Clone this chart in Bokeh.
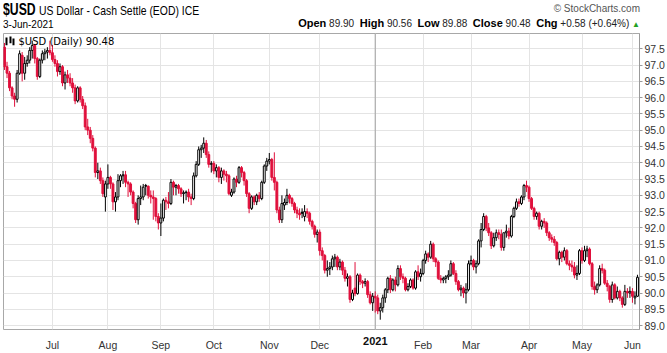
import pandas as pd
from bokeh.plotting import figure
from bokeh.layouts import column
from bokeh.models import (Range1d, FixedTicker, Label, BoxAnnotation, Span, ColumnDataSource,
                          NumeralTickFormatter, Div)
from bokeh.embed import file_html
from bokeh.resources import INLINE

HOLIDAYS = ["2020-07-03", "2020-09-07", "2020-11-26", "2020-12-25", "2021-01-01",
            "2021-01-18", "2021-02-15", "2021-04-02", "2021-05-31"]
dates = [d for d in pd.bdate_range("2020-06-04", "2021-06-03")
         if d.strftime("%Y-%m-%d") not in HOLIDAYS]

opens = [97.55, 96.95, 96.75, 96.30, 96.05, 95.95, 96.75, 97.30, 96.75, 97.05,
         97.15, 97.45, 97.60, 97.20, 96.65, 97.15, 97.35, 97.40, 97.45, 97.38,
         97.17, 97.05, 96.80, 96.95, 96.45, 96.70, 96.60, 96.45, 96.30, 95.90,
         96.30, 95.95, 95.75, 95.10, 95.00, 94.75, 94.45, 93.70, 93.75, 93.45,
         92.95, 93.35, 93.55, 93.35, 92.80, 92.95, 93.45, 93.60, 93.63, 93.40,
         93.35, 93.10, 92.75, 92.25, 92.90, 92.95, 93.30, 93.28, 93.00, 92.95,
         92.90, 92.35, 92.15, 92.30, 92.85, 92.80, 92.75, 93.40, 93.25, 93.30,
         93.20, 93.05, 93.08, 93.10, 92.95, 92.90, 93.60, 93.95, 94.40, 94.45,
         94.60, 94.25, 93.95, 93.98, 93.75, 93.85, 93.55, 93.75, 93.65, 93.60,
         93.00, 93.10, 93.50, 93.40, 93.85, 93.70, 93.45, 93.05, 92.60, 92.95,
         92.80, 93.00, 92.90, 93.40, 93.90, 94.05, 94.10, 93.55, 93.40, 92.55,
         92.25, 92.70, 92.78, 93.00, 92.90, 92.75, 92.55, 92.45, 92.48, 92.35,
         92.50, 92.45, 92.20, 92.05, 91.80, 91.87, 91.30, 91.15, 90.70, 90.75,
         90.80, 91.05, 91.10, 90.80, 90.95, 90.70, 90.45, 90.50, 89.80, 90.15,
         89.98, 90.55, 90.35, 90.30, 90.35, 89.95, 89.70, 89.90, 89.85, 89.45,
         89.55, 89.85, 90.10, 90.45, 90.10, 90.40, 90.25, 90.75, 90.50, 90.45,
         90.10, 90.20, 90.40, 90.15, 90.65, 90.50, 90.60, 91.00, 91.20, 91.10,
         91.50, 91.05, 90.95, 90.45, 90.40, 90.45, 90.50, 90.55, 90.90, 90.60,
         90.35, 90.10, 90.15, 90.00, 90.10, 90.90, 91.00, 90.80, 90.90, 91.60,
         91.95, 92.35, 92.00, 91.85, 91.45, 91.70, 91.85, 91.80, 91.40, 91.85,
         91.90, 91.75, 92.35, 92.60, 92.80, 92.75, 92.95, 93.30, 93.25, 92.90,
         92.60, 92.35, 92.45, 92.05, 92.20, 92.15, 91.85, 91.70, 91.65, 91.55,
         91.05, 91.25, 91.10, 91.30, 90.90, 90.85, 90.80, 90.55, 90.60, 91.30,
         91.00, 91.30, 91.35, 90.90, 90.20, 90.10, 90.25, 90.75, 90.70, 90.30,
         90.20, 89.80, 90.25, 89.85, 90.05, 89.85, 89.65, 90.05, 90.00, 90.05,
         89.85, 89.90]
highs = [97.68, 97.10, 96.82, 96.35, 96.15, 96.85, 97.45, 97.40, 97.25, 97.30,
         97.55, 97.75, 97.65, 97.25, 97.20, 97.45, 97.50, 97.55, 97.75, 97.62,
         97.30, 97.15, 97.05, 97.00, 96.80, 96.85, 96.75, 96.60, 96.40, 96.35,
         96.35, 96.05, 95.85, 95.35, 95.10, 94.85, 94.50, 94.00, 93.85, 93.55,
         93.45, 93.95, 93.60, 93.40, 93.10, 93.65, 93.65, 93.75, 93.75, 93.45,
         93.40, 93.15, 92.80, 93.00, 93.30, 93.35, 93.35, 93.30, 93.15, 93.15,
         92.95, 92.45, 92.75, 92.90, 92.95, 93.10, 93.50, 93.45, 93.35, 93.35,
         93.25, 93.15, 93.15, 93.20, 93.05, 93.70, 94.05, 94.50, 94.55, 94.78,
         94.70, 94.35, 94.05, 94.05, 93.95, 93.90, 93.85, 93.80, 93.75, 93.65,
         93.20, 93.55, 93.60, 93.90, 93.90, 93.75, 93.50, 93.10, 93.00, 93.00,
         93.05, 93.10, 93.45, 93.95, 94.15, 94.30, 94.15, 94.32, 93.45, 92.65,
         93.00, 92.90, 93.20, 93.05, 92.95, 92.80, 92.65, 92.60, 92.60, 92.70,
         92.60, 92.50, 92.25, 92.10, 91.95, 91.95, 91.40, 91.20, 91.00, 90.95,
         91.15, 91.20, 91.15, 91.05, 91.00, 90.80, 90.60, 90.55, 90.10, 90.95,
         90.60, 90.60, 90.40, 90.45, 90.40, 90.05, 90.00, 90.05, 89.95, 89.70,
         89.95, 90.15, 90.50, 90.55, 90.45, 90.50, 90.85, 90.85, 90.60, 90.50,
         90.30, 90.45, 90.45, 90.70, 90.85, 90.75, 91.05, 91.30, 91.25, 91.60,
         91.55, 91.10, 91.00, 90.55, 90.50, 90.55, 90.70, 91.00, 90.95, 90.70,
         90.40, 90.25, 90.20, 90.30, 91.00, 91.15, 91.05, 91.00, 91.65, 92.15,
         92.45, 92.40, 92.15, 91.90, 91.85, 91.95, 91.95, 91.95, 91.85, 92.10,
         92.00, 92.40, 92.65, 92.90, 92.90, 93.00, 93.35, 93.45, 93.30, 92.95,
         92.65, 92.50, 92.50, 92.25, 92.30, 92.20, 91.90, 91.80, 91.75, 91.60,
         91.30, 91.30, 91.40, 91.35, 91.00, 91.00, 90.95, 90.85, 91.35, 91.40,
         91.45, 91.45, 91.40, 90.95, 90.35, 90.30, 90.85, 90.90, 90.75, 90.40,
         90.25, 90.35, 90.30, 90.20, 90.10, 89.90, 90.25, 90.15, 90.20, 90.15,
         90.05, 90.56]
lows = [96.85, 96.60, 96.20, 95.95, 95.72, 95.85, 96.70, 96.50, 96.55, 96.95,
        97.05, 97.20, 97.05, 96.55, 96.60, 97.05, 97.15, 97.20, 97.30, 97.10,
        96.95, 96.65, 96.70, 96.35, 96.25, 96.45, 96.35, 96.15, 95.80, 95.85,
        95.85, 95.65, 95.00, 94.85, 94.60, 94.35, 93.55, 93.50, 93.35, 92.95,
        92.50, 93.20, 93.20, 92.55, 92.50, 92.85, 93.25, 93.35, 93.25, 92.95,
        93.00, 92.60, 92.15, 92.10, 92.70, 92.85, 93.00, 92.90, 92.75, 92.25,
        92.20, 91.95, 91.75, 92.20, 92.55, 92.60, 92.70, 93.00, 93.00, 93.05,
        92.95, 92.75, 92.85, 92.80, 92.70, 92.85, 93.55, 93.90, 94.15, 94.30,
        94.15, 93.85, 93.70, 93.65, 93.55, 93.40, 93.35, 93.45, 93.40, 93.00,
        92.95, 93.05, 93.25, 93.35, 93.55, 93.30, 92.95, 92.45, 92.55, 92.70,
        92.70, 92.80, 92.85, 93.35, 93.75, 93.95, 93.45, 93.15, 92.45, 92.15,
        92.15, 92.55, 92.70, 92.75, 92.65, 92.45, 92.30, 92.25, 92.30, 92.20,
        92.30, 92.10, 91.95, 91.70, 91.55, 91.15, 91.00, 90.60, 90.50, 90.55,
        90.70, 90.80, 90.70, 90.70, 90.55, 90.35, 90.20, 89.70, 89.75, 89.90,
        89.95, 90.25, 90.15, 90.20, 89.85, 89.65, 89.45, 89.40, 89.35, 89.18,
        89.40, 89.70, 90.00, 90.00, 90.05, 90.05, 90.20, 90.40, 90.30, 90.05,
        90.05, 90.15, 90.10, 90.10, 90.40, 90.35, 90.55, 90.90, 90.95, 91.05,
        90.95, 90.80, 90.40, 90.30, 90.30, 90.30, 90.40, 90.50, 90.55, 90.25,
        90.05, 89.90, 89.85, 89.68, 90.05, 90.85, 90.70, 90.60, 90.85, 91.40,
        91.90, 91.90, 91.75, 91.35, 91.40, 91.60, 91.65, 91.30, 91.30, 91.70,
        91.65, 91.70, 92.30, 92.55, 92.65, 92.70, 92.85, 93.10, 92.80, 92.55,
        92.25, 92.25, 91.95, 91.95, 92.00, 91.75, 91.60, 91.55, 91.45, 91.00,
        90.85, 90.95, 91.00, 90.85, 90.70, 90.65, 90.45, 90.40, 90.55, 90.90,
        90.95, 91.10, 90.85, 90.10, 89.95, 90.00, 90.20, 90.60, 90.25, 90.05,
        89.70, 89.70, 89.80, 89.80, 89.75, 89.55, 89.60, 89.85, 89.85, 89.70,
        89.65, 89.88]
closes = [96.95, 96.75, 96.30, 96.05, 95.95, 96.75, 97.35, 96.75, 97.05, 97.15,
          97.45, 97.60, 97.20, 96.65, 97.15, 97.35, 97.40, 97.45, 97.38, 97.17,
          97.05, 96.80, 96.95, 96.45, 96.70, 96.60, 96.45, 96.30, 95.90, 96.30,
          95.95, 95.75, 95.10, 95.00, 94.75, 94.45, 93.70, 93.75, 93.45, 93.05,
          93.35, 93.55, 93.35, 92.80, 92.95, 93.45, 93.60, 93.63, 93.40, 93.35,
          93.10, 92.75, 92.25, 92.90, 92.95, 93.25, 93.28, 93.00, 92.95, 92.90,
          92.35, 92.15, 92.30, 92.85, 92.80, 92.75, 93.40, 93.25, 93.30, 93.20,
          93.05, 93.08, 93.10, 92.95, 92.90, 93.60, 93.95, 94.40, 94.45, 94.60,
          94.25, 93.95, 93.98, 93.75, 93.85, 93.55, 93.75, 93.65, 93.60, 93.05,
          93.10, 93.50, 93.40, 93.85, 93.70, 93.45, 93.05, 92.60, 92.95, 92.80,
          93.00, 92.90, 93.40, 93.90, 94.05, 94.10, 93.55, 93.40, 92.55, 92.25,
          92.75, 92.78, 93.00, 92.90, 92.75, 92.55, 92.45, 92.40, 92.45, 92.50,
          92.45, 92.20, 92.05, 91.80, 91.87, 91.30, 91.15, 90.70, 90.75, 90.80,
          91.05, 91.10, 90.80, 90.95, 90.70, 90.45, 90.50, 89.80, 90.00, 89.98,
          90.55, 90.35, 90.30, 90.35, 89.95, 89.70, 89.90, 89.85, 89.45, 89.55,
          89.85, 90.10, 90.45, 90.10, 90.40, 90.25, 90.75, 90.50, 90.45, 90.10,
          90.20, 90.40, 90.15, 90.65, 90.50, 90.60, 91.00, 91.20, 91.10, 91.50,
          91.05, 90.95, 90.45, 90.40, 90.45, 90.50, 90.55, 90.90, 90.60, 90.35,
          90.10, 90.15, 90.00, 90.10, 90.90, 91.00, 90.80, 90.90, 91.60, 91.95,
          92.35, 92.00, 91.85, 91.45, 91.70, 91.85, 91.80, 91.40, 91.85, 91.90,
          91.75, 92.35, 92.60, 92.80, 92.75, 92.95, 93.30, 93.25, 92.90, 92.60,
          92.35, 92.45, 92.05, 92.20, 92.15, 91.85, 91.70, 91.65, 91.55, 91.05,
          91.25, 91.10, 91.30, 90.90, 90.85, 90.80, 90.55, 90.60, 91.30, 91.00,
          91.30, 91.35, 90.90, 90.20, 90.10, 90.25, 90.75, 90.70, 90.30, 90.20,
          89.80, 90.25, 89.85, 90.05, 89.85, 89.65, 90.05, 90.00, 90.05, 89.90,
          89.90, 90.48]

Y_TICKS = [89.0, 89.5, 90.0, 90.5, 91.0, 91.5, 92.0, 92.5, 93.0, 93.5,
           94.0, 94.5, 95.0, 95.5, 96.0, 96.5, 97.0, 97.5]

RED = "#e0103c"
BLACK = "#000000"

n = len(closes)
xs = list(range(n))
prev = [opens[0]] + closes[:-1]
cols = [BLACK if c >= pc else RED for c, pc in zip(closes, prev)]
fills = ["#ffffff" if c > o else col for o, c, col in zip(opens, closes, cols)]
tops = [max(o, c) for o, c in zip(opens, closes)]
bots = [min(o, c) for o, c in zip(opens, closes)]
tops = [t if t - b > 0.02 else b + 0.02 for t, b in zip(tops, bots)]

month_ticks, month_names = [], []
for i in range(1, n):
    if dates[i].month != dates[i - 1].month:
        month_ticks.append(i)
        month_names.append("2021" if dates[i].month == 1 else dates[i].strftime("%b"))
jan_tick = month_ticks[month_names.index("2021")]

XMIN, XMAX = -0.4, 251.8
YMIN, YMAX = 88.879, 97.97
HEAD = 33          # header height (page px)
FL, FW, FH = 3, 637, 300

p = figure(width=667, height=320, x_range=Range1d(XMIN, XMAX), y_range=Range1d(YMIN, YMAX),
           output_backend="svg", toolbar_location=None, y_axis_location="right",
           min_border_left=FL, min_border_right=27, min_border_top=0, min_border_bottom=20,
           margin=0)
p.background_fill_color = "#ffffff"
p.border_fill_color = "#ffffff"
p.outline_line_color = "#a8a8a8"

p.xgrid.ticker = FixedTicker(ticks=month_ticks)
p.ygrid.ticker = FixedTicker(ticks=Y_TICKS)
p.xgrid.grid_line_color = "#e4e4e4"
p.ygrid.grid_line_color = "#e4e4e4"

p.yaxis.ticker = FixedTicker(ticks=Y_TICKS)
p.yaxis.formatter = NumeralTickFormatter(format="0.0")
p.yaxis.axis_line_color = "#9a9a9a"
p.yaxis.major_tick_line_color = "#9a9a9a"
p.yaxis.major_tick_out = 3
p.yaxis.major_tick_in = 0
p.yaxis.minor_tick_line_color = None
p.yaxis.major_label_standoff = 2
p.yaxis.major_label_text_font = "Liberation Sans"
p.yaxis.major_label_text_font_size = "10.5px"
p.yaxis.major_label_text_color = "#333333"

# month labels on the axis; the bold year label is drawn by the page overlay below
p.xaxis.ticker = FixedTicker(ticks=month_ticks)
p.xaxis.major_label_overrides = {t: ("" if m == "2021" else m) for t, m in zip(month_ticks, month_names)}
p.xaxis.axis_line_color = None
p.xaxis.major_tick_line_color = None
p.xaxis.minor_tick_line_color = None
p.xaxis.major_label_standoff = 3
p.xaxis.major_label_text_font = "Liberation Sans"
p.xaxis.major_label_text_font_size = "10.5px"
p.xaxis.major_label_text_color = "#333333"

p.add_layout(Span(location=jan_tick, dimension="height", line_color="#a0a0a0",
                  line_width=1, level="underlay"))

src = ColumnDataSource(dict(x=xs, o=opens, h=highs, l=lows, c=closes,
                            top=tops, bot=bots, col=cols, fill=fills))
p.segment(x0="x", y0="l", x1="x", y1="h", color="col", line_width=1, source=src)
p.vbar(x="x", width=0.75, top="top", bottom="bot", fill_color="fill",
       line_color="col", line_width=1, source=src)


def dxy(cx, cy):
    """page pixel -> data coordinates"""
    return (XMIN + (cx - FL) / FW * (XMAX - XMIN), YMAX - (cy - HEAD) / FH * (YMAX - YMIN))


x, y = dxy(18, 41)
p.add_layout(Label(x=x, y=y, text="$USD (Daily) 90.48", text_font="DejaVu Sans",
                   text_font_size="10px", text_color="#000000", text_baseline="middle"))
for (l, t, r, b) in [(5, 37, 7, 45), (9, 36, 11, 43), (12, 38, 14, 45)]:
    x0, y0 = dxy(l, t)
    x1, y1 = dxy(r, b)
    p.add_layout(BoxAnnotation(left=x0, right=x1, top=y0, bottom=y1, fill_color="#000000",
                               fill_alpha=1, line_color=None))

# page x of the January tick, from the same scale as the plot
jan_px = FL + (jan_tick - XMIN) / (XMAX - XMIN) * FW

SANS = "'Liberation Sans',Arial,sans-serif"
B = "font-weight:bold;font-size:11px;color:#000;"
header_html = f"""
<div style="position:relative;width:667px;height:{HEAD}px;overflow:visible;background:#fff;color:#000;font-family:{SANS};">
  <span style="position:absolute;left:3px;top:0px;font-weight:bold;font-size:17px;line-height:20px;white-space:nowrap;display:inline-block;transform:scaleX(0.72);transform-origin:0 50%;">$USD</span>
  <span style="position:absolute;left:39px;top:3px;font-size:13px;line-height:16px;white-space:nowrap;display:inline-block;transform:scaleX(0.8);transform-origin:0 50%;">US Dollar - Cash Settle (EOD) ICE</span>
  <span style="position:absolute;left:3px;top:19px;font-size:10px;line-height:12px;white-space:nowrap;">3-Jun-2021</span>
  <span style="position:absolute;right:27px;top:3px;font-size:10px;line-height:12px;color:#555;white-space:nowrap;">&copy; StockCharts.com</span>
  <span style="position:absolute;right:27px;top:17px;font-size:10px;line-height:13px;color:#222;white-space:nowrap;"><b style="{B}">Open</b> 89.90&nbsp;&nbsp;<b style="{B}">High</b> 90.56&nbsp;&nbsp;<b style="{B}">Low</b> 89.88&nbsp;&nbsp;<b style="{B}">Close</b> 90.48&nbsp;&nbsp;<b style="{B}">Chg</b> +0.58 (+0.64%) <span style="color:#22a022;font-size:8px;">&#9650;</span></span>
  <span style="position:absolute;left:{jan_px:.1f}px;top:335px;z-index:20;transform:translateX(-50%);font-weight:bold;font-size:11px;line-height:12px;color:#111;white-space:nowrap;">2021</span>
</div>
"""
header = Div(text=header_html, width=667, height=HEAD, margin=0,
             styles={"overflow": "visible", "z-index": "10"})

layout = column(header, p, spacing=0, margin=0)
open("out.html", "w").write(file_html(layout, INLINE))
